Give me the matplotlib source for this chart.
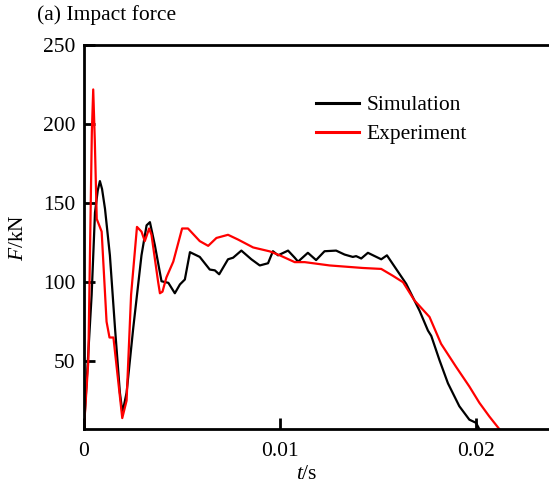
import numpy as np
import matplotlib.pyplot as plt

plt.rcParams['font.family'] = ['Liberation Serif', 'DejaVu Serif']
plt.rcParams['mathtext.fontset'] = 'custom'
plt.rcParams['mathtext.it'] = 'Liberation Serif:italic'
plt.rcParams['mathtext.rm'] = 'Liberation Serif'

# simulation curve (t in s, F in kN)
t_sim = [0.0, 0.00039, 0.00056, 0.0007, 0.00081, 0.00092, 0.00107, 0.00132, 0.00158,
         0.00183, 0.00196, 0.00217, 0.00251, 0.00293, 0.00319, 0.00336, 0.00361, 0.00395,
         0.0043, 0.00463, 0.00489, 0.00514, 0.0054, 0.0059, 0.00641, 0.00667, 0.00689,
         0.00734, 0.0076, 0.00802, 0.00853, 0.00896, 0.00938, 0.00963, 0.00989, 0.0104,
         0.01074, 0.01091, 0.01141, 0.01183, 0.01226, 0.01285, 0.01328, 0.0137, 0.01387,
         0.01413, 0.01447, 0.01515, 0.01544, 0.01575, 0.01642, 0.0171, 0.01753, 0.0177,
         0.01812, 0.01855, 0.01913, 0.01964, 0.01998, 0.02015]
f_sim = [8, 92, 144, 158, 164, 159, 146.5, 117, 71,
         30, 17.5, 30, 71, 117, 136, 138, 123.5, 100.6,
         99.6, 93, 98.6, 101.7, 119, 116, 108, 107.5, 105,
         114.5, 115.5, 120, 114.5, 110.6, 112, 119.6, 117, 120,
         115.5, 113, 118.6, 114, 119.6, 120, 117.5, 116, 116.5,
         115, 118.6, 114.5, 117, 111.3, 99, 82, 69.4, 66,
         50.6, 36, 21.5, 13, 11, 7]

# experiment curve
t_exp = [0.0, 0.00022, 0.0004, 0.00047, 0.00055, 0.00065, 0.0009, 0.00115, 0.0013,
         0.0015, 0.00195, 0.00217, 0.0024, 0.0027, 0.00293, 0.0031, 0.00332, 0.00344,
         0.00378, 0.00387, 0.004, 0.0042, 0.00455, 0.005, 0.0053, 0.0059, 0.00633,
         0.00675, 0.00734, 0.00785, 0.00862, 0.00947, 0.00998, 0.01074, 0.01125, 0.01252,
         0.01421, 0.01515, 0.01575, 0.01626, 0.01684, 0.01761, 0.0182, 0.01896, 0.01964,
         0.02015, 0.02066, 0.02117]
f_exp = [8, 50, 195, 222, 190, 140, 132, 75, 65,
         65, 14, 25, 92, 135, 132, 126, 134, 130,
         100, 93, 94, 103, 113, 134, 134, 126, 123,
         128, 130, 127, 122, 119.5, 117, 112.7, 112.7, 110.6,
         109, 108.4, 104, 100, 88.5, 78, 61, 46.5, 34,
         23.7, 15, 7]

fig = plt.figure(figsize=(5.49, 4.86), dpi=100)
ax = fig.add_axes([0.153, 0.117, 0.847, 0.79])

ax.plot(t_sim, f_sim, color='black', lw=1.6, label='Simulation')
ax.plot(t_exp, f_exp, color='#ff0000', lw=1.6, label='Experiment')

ax.set_xlim(0, 0.0237)
ax.set_ylim(7, 250)
ax.set_xticks([0, 0.01, 0.02])
ax.set_xticklabels(['0', '0.01', '0.02'])
ax.set_yticks([50, 100, 150, 200, 250])

ax.spines['right'].set_visible(False)
for s in ['left', 'bottom', 'top']:
    ax.spines[s].set_linewidth(2)
ax.tick_params(direction='in', length=8, width=2, labelsize=15.5, pad=6)
ax.tick_params(axis='x', pad=9.5)

ax.set_xlabel('$t$/s', fontsize=15.5, labelpad=3)
ax.xaxis.label.set_x(0.48)
ax.set_ylabel('$F$/kN', fontsize=15.5, labelpad=11)

fig.text(0.067, 0.969, '(a) Impact force', fontsize=15.5, ha='left', va='center')

leg = ax.legend(loc='upper left', bbox_to_anchor=(0.458, 0.92), frameon=False,
                fontsize=15.5, handlelength=2.0, handletextpad=0.35, labelspacing=0.42)
for h in leg.get_lines():
    h.set_linewidth(2.2)

fig.savefig('out.png', dpi=100)
